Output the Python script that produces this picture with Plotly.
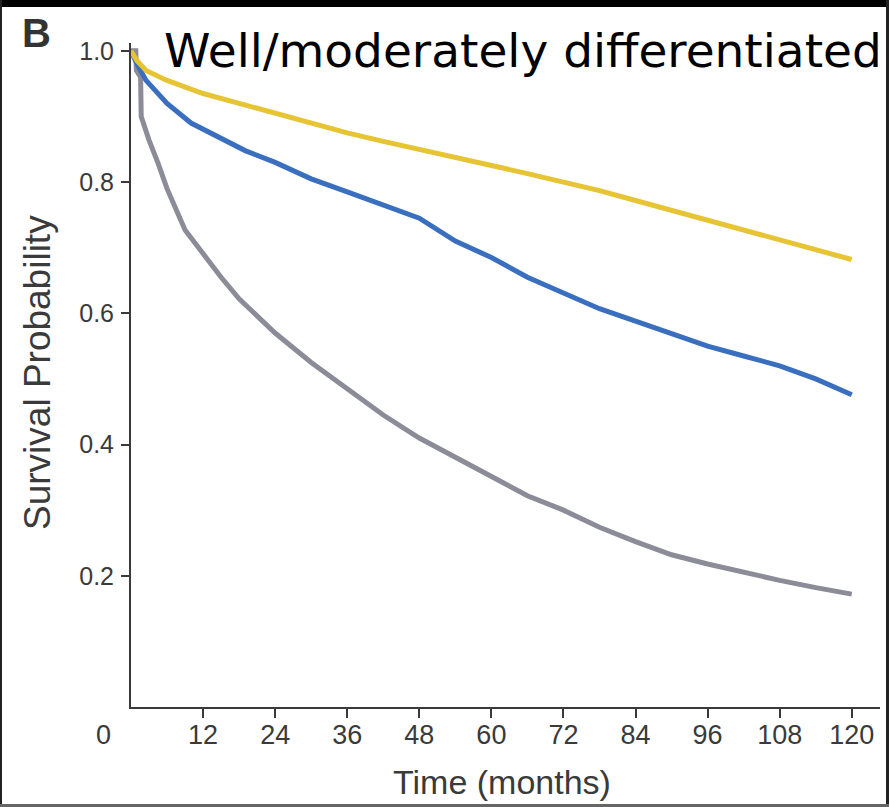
import plotly.graph_objects as go

# Time (months) and survival probabilities
t_yellow = [0, 1, 2.5, 6, 12, 18, 24, 30, 36, 42, 48, 54, 60, 66, 72, 78, 84, 90, 96, 102, 108, 114, 120]
s_yellow = [1.0, 0.985, 0.97, 0.955, 0.935, 0.92, 0.905, 0.89, 0.875, 0.862, 0.85, 0.838, 0.826,
            0.813, 0.80, 0.787, 0.772, 0.757, 0.742, 0.727, 0.712, 0.697, 0.682]

t_blue = [0, 1, 2.5, 6, 10, 14.5, 19, 24, 30, 36, 42, 48, 54, 60, 66, 72, 78, 84, 90, 96, 102, 108, 114, 120]
s_blue = [1.0, 0.98, 0.955, 0.92, 0.89, 0.868, 0.848, 0.83, 0.805, 0.785, 0.765, 0.745, 0.71, 0.685,
          0.655, 0.632, 0.607, 0.588, 0.568, 0.55, 0.535, 0.52, 0.5, 0.476]

t_gray = [0, 0.8, 0.9, 1.6, 1.7, 3, 4.5, 6, 9, 12, 15, 18, 24, 30, 36, 42, 48, 54, 60, 66, 72, 78, 84,
          90, 96, 102, 108, 114, 120]
s_gray = [1.0, 1.0, 0.97, 0.96, 0.90, 0.864, 0.829, 0.79, 0.727, 0.69, 0.655, 0.622, 0.57, 0.525, 0.484,
          0.445, 0.41, 0.38, 0.35, 0.322, 0.30, 0.274, 0.252, 0.232, 0.218, 0.205, 0.193, 0.182, 0.172]

x_ticks = [12, 24, 36, 48, 60, 72, 84, 96, 108, 120]
y_ticks = [0.2, 0.4, 0.6, 0.8, 1.0]

W, H = 889, 807
L, R, T, B = 131, 9, 43, 100
PW, PH = W - L - R, H - T - B


def px(x):
    return (x - L) / PW


def py(y):
    return (H - B - y) / PH


fig = go.Figure()
for t, s, c in [(t_gray, s_gray, "#8c8c98"), (t_blue, s_blue, "#3a6ebe"), (t_yellow, s_yellow, "#e6c433")]:
    fig.add_trace(go.Scatter(x=t, y=s, mode="lines", line=dict(color=c, width=5), showlegend=False,
                             hoverinfo="skip"))

axis_col = "#3a3a3a"
sans = "Liberation Sans, Arial"
fig.update_layout(
    width=W, height=H,
    margin=dict(l=L, r=R, t=T, b=B, autoexpand=False),
    paper_bgcolor="white", plot_bgcolor="white",
    xaxis=dict(range=[0, 124.7], tickvals=x_ticks, ticktext=[str(v) for v in x_ticks],
               automargin=False,
               showgrid=False, zeroline=False, showline=True, linecolor=axis_col, linewidth=2,
               ticks="outside", ticklen=9, tickwidth=2, tickcolor=axis_col, ticklabelstandoff=-6,
               tickfont=dict(family=sans, size=27, color="#3a3a3a")),
    yaxis=dict(range=[0, 1.012], tickvals=y_ticks, ticktext=["0.2", "0.4", "0.6", "0.8", "1.0"],
               automargin=False,
               showgrid=False, zeroline=False, showline=True, linecolor=axis_col, linewidth=2,
               ticks="outside", ticklen=8, tickwidth=2, tickcolor=axis_col, ticklabelstandoff=2,
               tickfont=dict(family=sans, size=25, color="#3a3a3a")),
)

# Axis titles
fig.add_annotation(x=px(502), y=py(782), xref="paper", yref="paper", text="Time (months)", showarrow=False,
                   xanchor="center", yanchor="middle",
                   font=dict(family=sans, size=34, color="#3a3a3a"))
fig.add_annotation(x=px(37), y=py(373), xref="paper", yref="paper", text="Survival Probability",
                   showarrow=False, textangle=-90, xanchor="center", yanchor="middle",
                   font=dict(family=sans, size=37, color="#3a3a3a"))
# "0" label sits left of the axis origin
fig.add_annotation(x=px(103), y=py(735), xref="paper", yref="paper", text="0", showarrow=False,
                   xanchor="center", yanchor="middle",
                   font=dict(family=sans, size=27, color="#3a3a3a"))
# Panel letter
fig.add_annotation(x=px(20), y=py(33), xref="paper", yref="paper", text="<b>B</b>", showarrow=False,
                   xanchor="left", yanchor="middle",
                   font=dict(family=sans, size=40, color="#333333"))
# Title
fig.add_annotation(x=px(162), y=py(50), xref="paper", yref="paper", text="Well/moderately differentiated",
                   showarrow=False, xanchor="left", yanchor="middle",
                   font=dict(family="DejaVu Sans", size=47, color="black"))

# Frame of the scanned panel
fig.add_shape(type="rect", xref="paper", yref="paper", x0=px(0), x1=px(W), y0=py(0), y1=py(7),
              fillcolor="black", line=dict(width=0))
fig.add_shape(type="rect", xref="paper", yref="paper", x0=px(0), x1=px(2), y0=py(0), y1=py(H),
              fillcolor="#222222", line=dict(width=0))
fig.add_shape(type="rect", xref="paper", yref="paper", x0=px(W - 3), x1=px(W), y0=py(0), y1=py(H),
              fillcolor="#222222", line=dict(width=0))
fig.add_shape(type="rect", xref="paper", yref="paper", x0=px(0), x1=px(W), y0=py(H - 3), y1=py(H),
              fillcolor="#666666", line=dict(width=0))

fig.write_html("out.html", config={"displayModeBar": False},
               post_script="document.body.style.margin='0';document.body.style.overflow='hidden';")
